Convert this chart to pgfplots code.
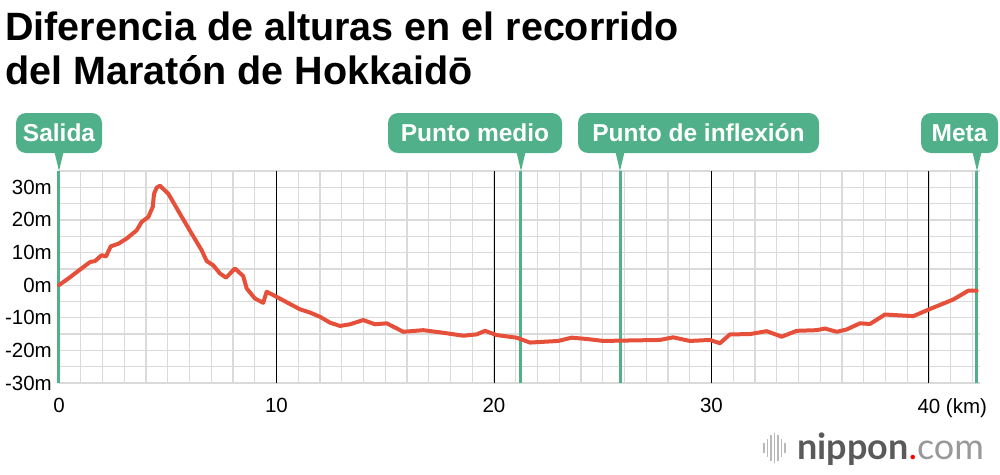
\documentclass[border=0pt]{standalone}
\usepackage{fontspec}
\setmainfont{Liberation Sans}
\newfontfamily\lato{Lato}
\usepackage{pgfplots}
\pgfplotsset{compat=1.18}
\definecolor{mkgreen}{RGB}{80,176,138}
\definecolor{elev}{RGB}{230,80,58}
\definecolor{gridgray}{RGB}{218,218,218}
\definecolor{logogray}{RGB}{90,90,90}

\begin{document}
\begin{tikzpicture}
\path[use as bounding box, fill=white] (0pt,0pt) rectangle (1000pt,-474pt);

% title
\node[anchor=base west, inner sep=0pt, font=\fontsize{39.5}{44}\selectfont\bfseries] at (5pt,-40pt) {Diferencia de alturas en el recorrido};
\node[anchor=base west, inner sep=0pt, font=\fontsize{39.5}{44}\selectfont\bfseries] at (5pt,-84pt) {del Maratón de Hokkaidō};

\begin{axis}[
  at={(59pt,-383pt)}, anchor=south west,
  scale only axis, width=921pt, height=212pt,
  xmin=0, xmax=42.35, ymin=-30, ymax=35,
  axis line style={draw=none},
  major tick length=0pt, minor tick length=0pt,
  xtick={0,10,20,30,40},
  xticklabels={0,10,20,30,40\rlap{ (km)}},
  minor xtick={1,...,42},
  ytick={-30,-20,...,30},
  yticklabels={-30m,-20m,-10m,0m,10m,20m,30m},
  minor ytick={-25,-15,...,35},
  grid=both,
  major grid style={gridgray, line width=1.3pt},
  minor grid style={gridgray, line width=1.3pt},
  xticklabel style={font=\fontsize{20.5}{24}\selectfont, anchor=north, inner sep=0pt, yshift=-15pt},
  yticklabel style={font=\fontsize{20.5}{24}\selectfont, anchor=east, inner sep=0pt, xshift=-7pt},
  clip=false,
]
% 10 km lines
\addplot[black, line width=0.9pt] coordinates {(10,-30) (10,35)};
\addplot[black, line width=0.9pt] coordinates {(20,-30) (20,35)};
\addplot[black, line width=0.9pt] coordinates {(30,-30) (30,35)};
\addplot[black, line width=0.9pt] coordinates {(40,-30) (40,35)};
% markers: start, half, turn, finish
\addplot[mkgreen, line width=3pt] coordinates {(0,-30) (0,35)};
\addplot[mkgreen, line width=3pt] coordinates {(21.2,-30) (21.2,35)};
\addplot[mkgreen, line width=3pt] coordinates {(25.8,-30) (25.8,35)};
\addplot[mkgreen, line width=3pt] coordinates {(42.2,-30) (42.2,35)};
% elevation profile
\addplot[elev, line width=4pt, line join=round, line cap=round] coordinates {
(0,0) (0.5,2.4) (0.97,4.8) (1.43,7.1) (1.66,7.4) (1.96,9.2) (2.16,8.8) (2.38,11.9)
(2.73,12.7) (3.11,14.3) (3.57,16.8) (3.80,19.4) (4.11,20.9) (4.31,24) (4.37,28)
(4.49,29.9) (4.64,30.5) (5.03,28) (5.56,21.9) (6.10,15.8) (6.56,10.7) (6.79,7.4)
(7.09,6.1) (7.40,3.6) (7.68,2.3) (8.09,5.1) (8.47,2.8) (8.63,-1) (9.01,-4.1)
(9.39,-5.4) (9.55,-2) (10.01,-3.6) (11.08,-7.4) (11.54,-8.4) (12.0,-9.7)
(12.46,-11.5) (12.92,-12.5) (13.38,-12.0) (13.99,-10.7) (14.53,-12.0) (15.07,-11.7)
(15.83,-14.3) (16.75,-13.8) (17.67,-14.6) (18.59,-15.5) (19.2,-15.1) (19.59,-14.0)
(20.12,-15.3) (21.04,-16.1) (21.66,-17.6) (22.96,-17.1) (23.57,-16.1) (24.26,-16.5)
(25.03,-17.1) (27.63,-16.8) (28.24,-16.0) (29.01,-17.1) (29.93,-16.8) (30.39,-17.8)
(30.85,-15.1) (31.77,-15.0) (32.54,-14.1) (33.23,-15.8) (33.92,-14.0) (34.84,-13.8)
(35.22,-13.3) (35.76,-14.3) (36.21,-13.6) (36.83,-11.7) (37.29,-11.9) (37.98,-9.0)
(39.28,-9.5) (40.05,-7.3) (41.12,-4.4) (41.81,-1.7) (42.195,-1.7)
};
\end{axis}

% marker callouts
\tikzset{callout/.style={fill=mkgreen, rounded corners=10pt},
         callouttext/.style={text=white, font=\fontsize{24.5}{28}\selectfont\bfseries, inner sep=0pt}}
\fill[callout] (16pt,-113pt) rectangle (102pt,-153pt);
\fill[mkgreen] (54pt,-150pt) -- (64pt,-150pt) -- (59pt,-171pt) -- cycle;
\node[callouttext] at (59pt,-133pt) {Salida};
\fill[callout] (388pt,-113pt) rectangle (562pt,-153pt);
\fill[mkgreen] (516pt,-150pt) -- (526pt,-150pt) -- (521pt,-171pt) -- cycle;
\node[callouttext] at (475pt,-133pt) {Punto medio};
\fill[callout] (578pt,-113pt) rectangle (819pt,-153pt);
\fill[mkgreen] (615pt,-150pt) -- (625pt,-150pt) -- (620pt,-171pt) -- cycle;
\node[callouttext] at (698.5pt,-133pt) {Punto de inflexión};
\fill[callout] (921pt,-113pt) rectangle (998pt,-153pt);
\fill[mkgreen] (972pt,-150pt) -- (982pt,-150pt) -- (977pt,-171pt) -- cycle;
\node[callouttext] at (959.5pt,-133pt) {Meta};

% logo
\foreach \x/\h in {764/10, 767.5/18, 771/26, 774.5/30, 778/26, 781.5/18, 785/10}
  \draw[gray!55, line width=1.6pt] (\x pt,-448pt+\h pt/2) -- (\x pt,-448pt-\h pt/2);
\node[anchor=base west, inner sep=0pt] at (797pt,-459pt)
  {\lato\fontsize{36}{40}\selectfont\textcolor{logogray}{\bfseries nippon}\textcolor{red}{.}\textcolor{gray!80}{com}};
\end{tikzpicture}
\end{document}
